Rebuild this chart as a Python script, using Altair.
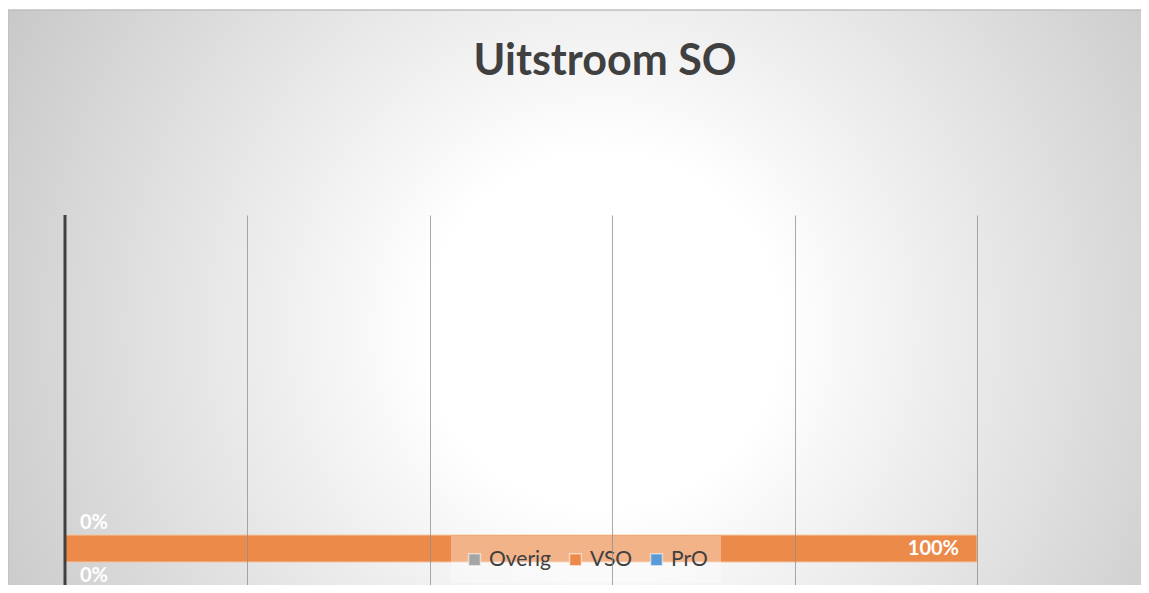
import altair as alt
import pandas as pd

# ---- data ----
category = ["SO", "SO", "SO"]
series = ["Overig", "PrO", "VSO"]
values = [0.0, 0.0, 1.0]
labels = ["0%", "0%", "100%"]
stack_rank = [0, 1, 2]
legend_order = ["Overig", "VSO", "PrO"]
legend_colors = ["#A5A5A5", "#EC8A4A", "#5B9BD5"]
tick_values = [0.2, 0.4, 0.6, 0.8, 1.0]
title_text = ["Uitstroom SO"]

df = pd.DataFrame({"cat": category, "series": series, "value": values,
                   "label": labels, "rank": stack_rank})

W, H = 912, 370
FONT = "Lato"

grad = alt.RadialGradient(
    gradient="radial",
    stops=[alt.GradientStop(color="#ffffff", offset=0),
           alt.GradientStop(color="#ffffff", offset=0.22),
           alt.GradientStop(color="#c8c8c8", offset=0.85),
           alt.GradientStop(color="#bcbcbc", offset=1)],
    x1=0.512, y1=0.24, r1=0, x2=0.512, y2=0.24, r2=0.6,
)

# background panel (tall so that the radial gradient is stretched vertically)
bg = alt.Chart(pd.DataFrame({"a": [0]})).mark_rect(
    fill=grad, stroke="#c0c0c0", strokeWidth=1.5
).encode(x=alt.value(-57), x2=alt.value(1100), y=alt.value(-205), y2=alt.value(1128))

title = alt.Chart(pd.DataFrame({"t": title_text})).mark_text(
    font=FONT, fontSize=43, fontWeight="bold", color="#404040",
    align="center", baseline="alphabetic"
).encode(text="t:N", x=alt.value(540), y=alt.value(-140))

base = alt.Chart(df)

# single category band placed low in the plot area via padding + align
yenc = alt.Y("cat:N", axis=None,
             scale=alt.Scale(paddingInner=0.8426, paddingOuter=1, align=0.933))

bars = base.mark_bar(stroke="#F6C7A5", strokeWidth=1).encode(
    x=alt.X("value:Q", stack="zero", scale=alt.Scale(domain=[0, 1]),
            axis=alt.Axis(values=tick_values, grid=True, labels=False, ticks=False,
                          domain=False, title=None, gridColor="#8c8c8c",
                          gridOpacity=0.75, gridWidth=1, zindex=1)),
    y=yenc,
    color=alt.Color("series:N",
                    scale=alt.Scale(domain=legend_order, range=legend_colors),
                    legend=alt.Legend(
                        title=None, orient="none", legendX=386, legendY=321,
                        direction="horizontal", fillColor="rgba(255,255,255,0.35)",
                        padding=13, symbolType="square", symbolSize=140,
                        symbolStrokeColor="rgba(255,255,255,0.55)",
                        symbolStrokeWidth=1.5, symbolOpacity=1,
                        labelFont=FONT, labelFontSize=21, labelColor="#404040",
                        labelOffset=4, columnPadding=13)),
    order=alt.Order("rank:Q"),
)

stacked = base.transform_stack(
    stack="value", groupby=["cat"], as_=["x0", "x1"],
    sort=[alt.SortField("rank", order="ascending")])

txt_kw = dict(font=FONT, fontSize=20, fontWeight="bold", color="#ffffff", baseline="middle")

lab_vso = stacked.transform_filter(alt.datum.series == "VSO").mark_text(
    align="right", dx=-18, **txt_kw).encode(x="x1:Q", y=yenc, text="label:N")
lab_pro = stacked.transform_filter(alt.datum.series == "PrO").mark_text(
    align="left", dx=15, dy=-26, **txt_kw).encode(x="x0:Q", y=yenc, text="label:N")
lab_ov = stacked.transform_filter(alt.datum.series == "Overig").mark_text(
    align="left", dx=15, dy=27, **txt_kw).encode(x="x0:Q", y=yenc, text="label:N")

yaxis_line = alt.Chart(pd.DataFrame({"a": [0]})).mark_rule(
    color="#404040", strokeWidth=3).encode(
    x=alt.datum(0), y=alt.value(0), y2=alt.value(H))

chart = alt.layer(bg, title, bars, lab_vso, lab_pro, lab_ov, yaxis_line).properties(
    width=W, height=H,
    autosize="none",
    padding={"left": 57, "top": 207, "right": 164, "bottom": 0},
).configure_view(stroke=None).configure(background="#ffffff")

chart.save("out.html", embed_options={"renderer": "svg", "actions": False})
